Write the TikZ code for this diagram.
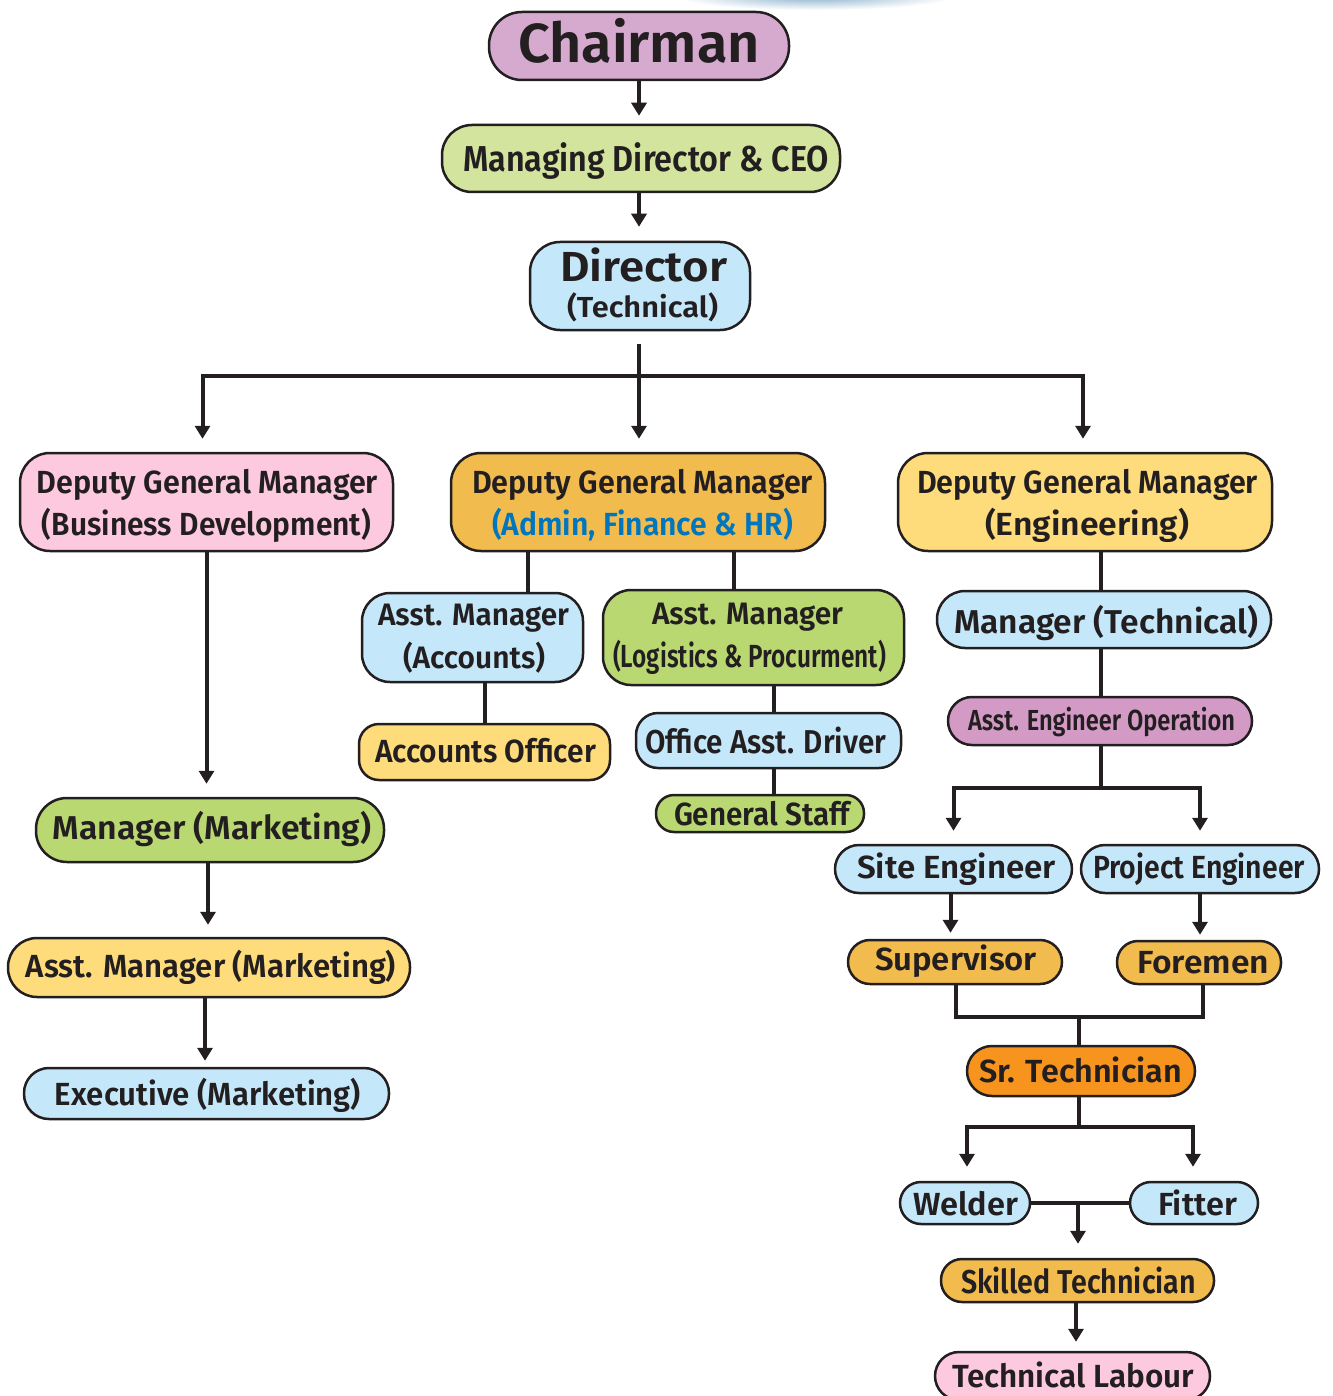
\documentclass[tikz,border=0pt]{standalone}
\usepackage{fontspec}
\setmainfont{Fira Sans}[UprightFont=* SemiBold, BoldFont=* Bold]
\usepackage{graphicx}
\usetikzlibrary{arrows.meta}
\newdimen\pxu \pxu=0.5pt
\newcommand\tw[2]{\resizebox{#1\pxu}{\height}{#2}}
\newcommand\fsz[1]{\fontsize{#1}{#1}\selectfont}
\definecolor{ink}{HTML}{231F20}
\definecolor{cChair}{HTML}{D6AACF}
\definecolor{cMD}{HTML}{D3E49E}
\definecolor{cBlue}{HTML}{C4E8FA}
\definecolor{cPink}{HTML}{FDC9DF}
\definecolor{cOrange}{HTML}{F2BB4E}
\definecolor{cYellow}{HTML}{FEDC7C}
\definecolor{cGreen}{HTML}{B9D871}
\definecolor{cPurple}{HTML}{D49AC6}
\definecolor{cSr}{HTML}{F7941E}
\definecolor{cText}{HTML}{0076BE}
\definecolor{cHaze}{HTML}{86AECB}
\tikzset{
  box/.style={draw=ink, line width=1.25pt, rounded corners=#1, inner sep=0pt},
  box/.default=12pt,
  sz/.style 2 args={minimum width=#1*0.5pt, minimum height=#2*0.5pt},
  txt/.style={anchor=base, inner sep=0pt, text=ink},
  conn/.style={draw=ink, line width=2pt},
  arr/.style={-{Triangle[width=7.5pt,length=6.5pt]}}
}
\begin{document}
\begin{tikzpicture}[x=0.5pt, y=-0.5pt]
\useasboundingbox (0,0) rectangle (1332,1396);
% faint background fragment at the top
\shade[inner color=cHaze, outer color=white] (815,-4) ellipse [x radius=70pt, y radius=7pt];
% boxes
\node[box=16.5pt, fill=cChair, sz={300}{68}] (chair) at (639,46) {};
\node[txt] (chairT) at (639,63) {\fsz{27.5}\tw{242}{Chairman}};
\node[box=15pt, fill=cMD, sz={398}{67}] (md) at (641,158.5) {};
\node[txt] (mdT) at (646,172) {\fsz{18}\tw{366}{Managing Director \& CEO}};
\node[box=15pt, fill=cBlue, sz={220}{88}] (dir) at (640,286) {};
\node[txt] (dirT1) at (643.5,282) {\fsz{21}\tw{167}{Director}};
\node[txt] (dirT2) at (642.5,317) {\fsz{14.5}\tw{151}{(Technical)}};

\node[box=15pt, fill=cPink, sz={373}{98}] (bd) at (206.5,502) {};
\node[txt] (bdT1) at (207.5,493) {\fsz{16}\tw{341}{Deputy General Manager}};
\node[txt] (bdT2) at (206.5,535) {\fsz{16}\tw{329}{(Business Development)}};
\node[box=15pt, fill=cOrange, sz={374}{98}] (adm) at (638,502) {};
\node[txt] (admT1) at (642.5,493) {\fsz{16}\tw{341}{Deputy General Manager}};
\node[txt, text=cText] (admT2) at (642.5,535) {\fsz{16}\tw{301}{(Admin, Finance \& HR)}};
\node[box=15pt, fill=cYellow, sz={374}{98}] (eng) at (1085,502) {};
\node[txt] (engT1) at (1087.5,493) {\fsz{16}\tw{341}{Deputy General Manager}};
\node[txt] (engT2) at (1087,535) {\fsz{16}\tw{204}{(Engineering)}};

\node[box=15.5pt, fill=cGreen, sz={348}{64}] (mkt) at (210,830) {};
\node[txt] (mktT) at (212,839) {\fsz{16.5}\tw{318}{Manager (Marketing)}};
\node[box=14.5pt, fill=cYellow, sz={402}{59}] (amkt) at (209,967.5) {};
\node[txt] (amktT) at (211,977) {\fsz{16}\tw{370}{Asst. Manager (Marketing)}};
\node[box=12.5pt, fill=cBlue, sz={365}{51}] (exe) at (206.5,1093.5) {};
\node[txt] (exeT) at (208,1105) {\fsz{16}\tw{306}{Executive (Marketing)}};

\node[box=14pt, fill=cBlue, sz={221}{89}] (acc) at (472.5,637.5) {};
\node[txt] (accT1) at (473.5,625) {\fsz{15.5}\tw{191}{Asst. Manager}};
\node[txt] (accT2) at (474,668) {\fsz{15.5}\tw{142}{(Accounts)}};
\node[box=14pt, fill=cGreen, sz={301}{95}] (log) at (753.5,637.5) {};
\node[txt] (logT1) at (747.5,624) {\fsz{15.5}\tw{191}{Asst. Manager}};
\node[txt] (logT2) at (749.5,667) {\fsz{16}\tw{273}{(Logistics \& Procurment)}};
\node[box=10pt, fill=cYellow, sz={251}{56}] (accoff) at (484.5,752) {};
\node[txt] (accoffT) at (485.5,762) {\fsz{16}\tw{221}{Accounts Officer}};
\node[box=11pt, fill=cBlue, sz={265}{55}] (off) at (768.5,740.5) {};
\node[txt] (offT) at (765.5,753) {\fsz{16.5}\tw{241}{Office Asst. Driver}};
\node[box=9pt, fill=cGreen, sz={208}{37}] (gen) at (760,813.5) {};
\node[txt] (genT) at (762,825) {\fsz{16}\tw{176}{General Staff}};

\node[box=14pt, fill=cBlue, sz={334}{57}] (mtech) at (1104,619.5) {};
\node[txt] (mtechT) at (1106,633) {\fsz{16.5}\tw{304}{Manager (Technical)}};
\node[box=12pt, fill=cPurple, sz={304}{48}] (aeo) at (1100,721) {};
\node[txt] (aeoT) at (1101.5,730) {\fsz{14.5}\tw{267}{Asst. Engineer Operation}};
\node[box=12pt, fill=cBlue, sz={237}{48}] (site) at (953.5,869) {};
\node[txt] (siteT) at (956.5,878) {\fsz{16}\tw{199}{Site Engineer}};
\node[box=12pt, fill=cBlue, sz={238}{48}] (proj) at (1200,869) {};
\node[txt] (projT) at (1199,878) {\fsz{16}\tw{212}{Project Engineer}};
\node[box=11pt, fill=cOrange, sz={214}{44}] (sup) at (955,962) {};
\node[txt] (supT) at (956,970) {\fsz{16}\tw{162}{Supervisor}};
\node[box=10.5pt, fill=cOrange, sz={164}{43}] (fore) at (1199,962.5) {};
\node[txt] (foreT) at (1203,973) {\fsz{16}\tw{132}{Foremen}};
\node[box=12.5pt, fill=cSr, sz={228}{50}] (sr) at (1081,1071) {};
\node[txt] (srT) at (1080.5,1082) {\fsz{16}\tw{203}{Sr. Technician}};
\node[box=10.5pt, fill=cBlue, sz={130}{42}] (weld) at (965,1203) {};
\node[txt] (weldT) at (965.5,1215) {\fsz{16}\tw{105}{Welder}};
\node[box=10.5pt, fill=cBlue, sz={128}{42}] (fit) at (1194,1203) {};
\node[txt] (fitT) at (1197.5,1215) {\fsz{16}\tw{79}{Fitter}};
\node[box=10.5pt, fill=cOrange, sz={273}{43}] (skill) at (1077.5,1280.5) {};
\node[txt] (skillT) at (1078.5,1293) {\fsz{16.5}\tw{235}{Skilled Technician}};
\node[box=12pt, fill=cPink, sz={275}{48}] (lab) at (1072.5,1376) {};
\node[txt] (labT) at (1073,1387) {\fsz{16}\tw{242}{Technical Labour}};

% junction coordinates
\coordinate (jd) at (639,376);
\coordinate (xa) at (528,0);
\coordinate (xl) at (734,0);
\coordinate (xo) at (774,0);
\coordinate (xe) at (1101,0);
\coordinate (ja) at (1101,788);
\coordinate (jb) at (1079,1017);
\coordinate (jc) at (1079,1127);
\coordinate (jw) at (1078,1203);

% connectors
\draw[conn,arr,shorten >=4pt] (chair.south) -- (chair.south |- md.north);
\draw[conn,arr,shorten >=7pt] (md.south -| jd) -- (jd |- dir.north);
\draw[conn] ([yshift=-6.5pt]dir.south -| jd) -- (jd);
\draw[conn,arr,shorten >=6.5pt] (jd) -- (jd |- adm.north);
\draw[conn,arr,shorten >=6.5pt] (jd) -| ([xshift=-2pt]bd.north);
\draw[conn,arr,shorten >=6.5pt] (jd) -| ([xshift=-1pt]eng.north);

\draw[conn,arr,shorten >=6.5pt] (bd.south) -- (bd.south |- mkt.north);
\draw[conn,arr,shorten >=6pt] ([xshift=-1pt]mkt.south) -- ([xshift=-1pt]mkt.south |- amkt.north);
\draw[conn,arr,shorten >=3pt] ([xshift=-2pt]amkt.south) -- ([xshift=-2pt]amkt.south |- exe.north);

\draw[conn] (adm.south -| xa) -- (acc.north -| xa);
\draw[conn] (adm.south -| xl) -- (log.north -| xl);
\draw[conn] (acc.south -| accoff.north) -- (accoff.north);
\draw[conn] (log.south -| xo) -- (off.north -| xo);
\draw[conn] (off.south -| xo) -- (gen.north -| xo);

\draw[conn] (eng.south -| xe) -- (mtech.north -| xe);
\draw[conn] (mtech.south -| xe) -- (aeo.north -| xe);
\draw[conn] (aeo.south -| ja) -- (ja);
\draw[conn,arr,shorten >=6.5pt] (ja) -| (site.north);
\draw[conn,arr,shorten >=6.5pt] (ja) -| (proj.north);
\draw[conn,arr,shorten >=3pt] ([xshift=-1.5pt]site.south) -- ([xshift=-1.5pt]site.south |- sup.north);
\draw[conn,arr,shorten >=2.5pt] (proj.south) -- (proj.south |- fore.north);

\draw[conn] ([xshift=0.5pt]sup.south) |- (jb) -| ([xshift=2pt]fore.south);
\draw[conn] (jb) -- (jb |- sr.north);
\draw[conn] (sr.south -| jc) -- (jc);
\draw[conn,arr,shorten >=7pt] (jc) -| ([xshift=1pt]weld.north);
\draw[conn,arr,shorten >=7pt] (jc) -| ([xshift=-0.5pt]fit.north);
\draw[conn] (weld.east) -- (fit.west);
\draw[conn,arr,shorten >=7pt] (jw) -- (jw |- skill.north);
\draw[conn,arr,shorten >=4.5pt] ([xshift=-0.75pt]skill.south) -- ([xshift=-0.75pt]skill.south |- lab.north);
\end{tikzpicture}
\end{document}
